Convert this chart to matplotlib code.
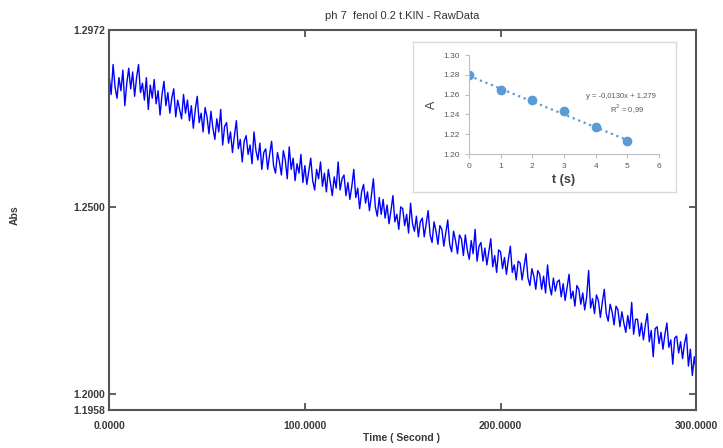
import numpy as np
import matplotlib.pyplot as plt

plt.rcParams['font.family'] = ['Liberation Sans', 'DejaVu Sans']

# raw kinetic trace, one reading per second (0 .. 300 s)
abs_raw = [
    1.2850, 1.2800, 1.2880, 1.2820, 1.2790, 1.2845, 1.2810, 1.2865, 1.2770, 1.2830,
    1.2870, 1.2815, 1.2860, 1.2795, 1.2845, 1.2880, 1.2805, 1.2830, 1.2785, 1.2845,
    1.2760, 1.2825, 1.2790, 1.2840, 1.2775, 1.2810, 1.2745, 1.2800, 1.2835, 1.2770,
    1.2805, 1.2750, 1.2790, 1.2815, 1.2740, 1.2785, 1.2760, 1.2735, 1.2800, 1.2750,
    1.2785, 1.2730, 1.2770, 1.2710, 1.2760, 1.2795, 1.2725, 1.2750, 1.2700, 1.2765,
    1.2740, 1.2695, 1.2755, 1.2710, 1.2680, 1.2735, 1.2700, 1.2760, 1.2665, 1.2715,
    1.2725, 1.2670, 1.2700, 1.2645, 1.2690, 1.2730, 1.2655, 1.2680, 1.2620, 1.2675,
    1.2690, 1.2640, 1.2665, 1.2615, 1.2700, 1.2650, 1.2625, 1.2670, 1.2600, 1.2645,
    1.2655, 1.2600, 1.2640, 1.2675, 1.2610, 1.2590, 1.2645, 1.2620, 1.2585, 1.2650,
    1.2625, 1.2575, 1.2660, 1.2600, 1.2630, 1.2570, 1.2615, 1.2590, 1.2640, 1.2565,
    1.2610, 1.2560, 1.2595, 1.2630, 1.2570, 1.2545, 1.2600, 1.2575, 1.2620, 1.2555,
    1.2590, 1.2540, 1.2600, 1.2565, 1.2530, 1.2580, 1.2550, 1.2620, 1.2545, 1.2575,
    1.2585, 1.2530, 1.2565, 1.2520, 1.2555, 1.2600, 1.2525, 1.2550, 1.2495, 1.2540,
    1.2560, 1.2510, 1.2540, 1.2490, 1.2530, 1.2575, 1.2500, 1.2475, 1.2525, 1.2480,
    1.2520, 1.2470, 1.2505, 1.2455, 1.2490, 1.2530, 1.2460, 1.2480, 1.2440, 1.2500,
    1.2495, 1.2450, 1.2480, 1.2430, 1.2510, 1.2455, 1.2435, 1.2475, 1.2420, 1.2460,
    1.2470, 1.2420, 1.2455, 1.2490, 1.2425, 1.2405, 1.2460, 1.2435, 1.2400, 1.2450,
    1.2440, 1.2395, 1.2430, 1.2465, 1.2400, 1.2380, 1.2435, 1.2410, 1.2375, 1.2425,
    1.2415, 1.2370, 1.2425, 1.2385, 1.2360, 1.2410, 1.2375, 1.2440, 1.2355, 1.2395,
    1.2405, 1.2355, 1.2390, 1.2345, 1.2380, 1.2415, 1.2340, 1.2370, 1.2325, 1.2385,
    1.2380, 1.2335, 1.2365, 1.2320, 1.2360, 1.2395, 1.2325, 1.2345, 1.2305, 1.2355,
    1.2350, 1.2305, 1.2340, 1.2375, 1.2310, 1.2290, 1.2335, 1.2315, 1.2280, 1.2330,
    1.2320, 1.2280, 1.2315, 1.2270, 1.2345, 1.2290, 1.2265, 1.2310, 1.2275, 1.2300,
    1.2305, 1.2260, 1.2295, 1.2250, 1.2285, 1.2320, 1.2255, 1.2275, 1.2235, 1.2290,
    1.2280, 1.2240, 1.2270, 1.2225, 1.2260, 1.2330, 1.2230, 1.2255, 1.2215, 1.2265,
    1.2250, 1.2205, 1.2245, 1.2280, 1.2215, 1.2195, 1.2240, 1.2220, 1.2185, 1.2235,
    1.2225, 1.2180, 1.2220, 1.2190, 1.2165, 1.2210, 1.2175, 1.2245, 1.2160, 1.2200,
    1.2200, 1.2155, 1.2190, 1.2145, 1.2185, 1.2215, 1.2140, 1.2170, 1.2100, 1.2175,
    1.2180, 1.2135, 1.2165, 1.2120, 1.2160, 1.2190, 1.2125, 1.2145, 1.2080, 1.2150,
    1.2155, 1.2110, 1.2140, 1.2095, 1.2135, 1.2160, 1.2075, 1.2120, 1.2050, 1.2100,
    1.2060,
]
time_s = np.arange(len(abs_raw))

y_ticks = [1.1958, 1.2000, 1.2500, 1.2972]
x_ticks = [0, 100, 200, 300]

# inset: absorbance vs t
t_fit = [0, 1, 2, 3, 4, 5]
a_fit = [1.280, 1.265, 1.255, 1.243, 1.227, 1.213]
slope, intercept = -0.0130, 1.279

fig = plt.figure(figsize=(7.23, 4.48), dpi=100)
ax = fig.add_axes([0.151, 0.085, 0.812, 0.848])
ax.plot(time_s, abs_raw, color='#0000ff', lw=1.0)
ax.set_xlim(0, 300)
ax.set_ylim(1.1958, 1.2972)
ax.set_xticks(x_ticks)
ax.set_xticklabels(['%.4f' % v for v in x_ticks], fontweight='bold')
ax.set_yticks(y_ticks)
ax.set_yticklabels(['%.4f' % v for v in y_ticks], fontweight='bold')
ax.tick_params(direction='in', length=5, width=1.2, color='#444444',
               labelsize=7.5, labelcolor='#3a3a3a', top=True, right=True)
ax.tick_params(axis='x', pad=8)
ax.tick_params(axis='y', pad=3)
for s in ax.spines.values():
    s.set_color('#555555')
    s.set_linewidth(1.5)

fig.text(0.556, 0.965, 'ph 7  fenol 0.2 t.KIN - RawData', ha='center', va='center',
         fontsize=8, color='#333333')
fig.text(0.556, 0.022, 'Time ( Second )', ha='center', va='center',
         fontsize=7.5, color='#3a3a3a', fontweight='bold')
fig.text(0.021, 0.52, 'Abs', rotation=90, ha='center', va='center',
         fontsize=7.5, color='#3a3a3a', fontweight='bold')

# inset frame
frame = fig.add_axes([0.5712, 0.5714, 0.3638, 0.3348])
frame.set_xticks([])
frame.set_yticks([])
for s in frame.spines.values():
    s.set_color('#d9d9d9')
    s.set_linewidth(1.0)

ins = fig.add_axes([0.6487, 0.6562, 0.2628, 0.221])
ins.patch.set_alpha(0)
tl = np.array([0, 5])
ins.plot(tl, slope * tl + intercept, ls=':', lw=1.6, color='#5b9bd5')
ins.plot(t_fit, a_fit, 'o', color='#5b9bd5', ms=6)
ins.set_xlim(0, 6)
ins.set_ylim(1.20, 1.30)
ins.set_xticks(range(7))
ins.set_yticks([1.20, 1.22, 1.24, 1.26, 1.28, 1.30])
ins.set_yticklabels(['%.2f' % v for v in [1.20, 1.22, 1.24, 1.26, 1.28, 1.30]])
ins.tick_params(labelsize=6, labelcolor='#595959', color='#bfbfbf', length=3, width=0.8)
for side in ['top', 'right']:
    ins.spines[side].set_visible(False)
for side in ['left', 'bottom']:
    ins.spines[side].set_color('#bfbfbf')
ins.set_xlabel('t (s)', fontsize=9, color='#404040', labelpad=3, fontweight='bold')
ins.set_ylabel('A', fontsize=9, color='#404040', labelpad=4)
ins.text(4.8, 1.2586, 'y = -0,0130x + 1,279', fontsize=5.5, color='#595959',
         ha='center', va='center')
ins.text(4.99, 1.2455, 'R$^2$ = 0,99', fontsize=5.5, color='#595959',
         ha='center', va='center')

fig.savefig('out.png', dpi=100)
